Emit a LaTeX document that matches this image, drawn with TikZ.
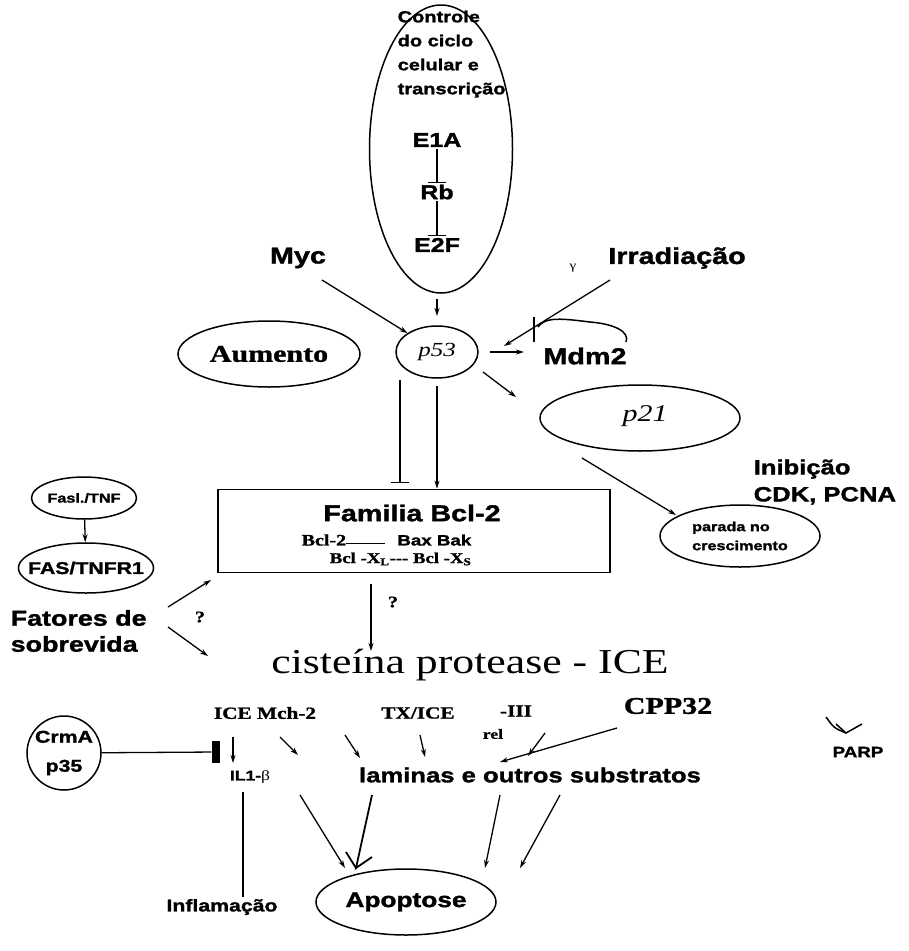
\documentclass[tikz,border=0pt]{standalone}
\usepackage{fontspec}
\setmainfont{Liberation Sans}[FakeStretch=1.25]
\newfontfamily\sansb{Liberation Sans}[FakeStretch=1.25,BoldFeatures={FakeBold=1.5}]
\newfontfamily\serifb{Liberation Serif}[FakeStretch=1.25,BoldFeatures={FakeBold=1.2}]
\usetikzlibrary{shapes.geometric,arrows.meta}
\begin{document}
\begin{tikzpicture}[x=1pt,y=-1pt,line width=1.4pt,
  ell/.style={draw,ellipse,inner sep=0pt,line width=1.5pt},
  txt/.style={inner sep=1pt},
  sans/.style={txt,font=\sansb\bfseries\fontsize{#1}{#1}\selectfont},
  serb/.style={txt,font=\serifb\bfseries\fontsize{#1}{#1}\selectfont},
  seri/.style={txt,font=\serifb\itshape\fontsize{#1}{#1}\selectfont},
  arr/.style={-{Stealth[length=8pt,width=5pt]},line width=1.3pt},
  inh/.style={-{Bar[width=18pt,line width=1.4pt]},line width=1.3pt},
  conn/.style={line width=1.3pt}]
\useasboundingbox (0,0) rectangle (909,951);

% ---- top ellipse: cell cycle control
\node[ell,minimum width=143,minimum height=288] (cc) at (441,149) {};
\node[anchor=north west,align=left,inner sep=0pt,
      font=\sansb\bfseries\fontsize{16}{24}\selectfont] (ctl) at (397,10)
      {Controle\\do ciclo\\celular e\\transcrição};
\node[sans=20] (e1a) at (437,140) {E1A};
\node[sans=20] (rb) at (437,192) {Rb};
\node[sans=20] (e2f) at (437,245) {E2F};
\draw[inh] (e1a) -- (rb);
\draw[inh] (rb) -- (e2f);

% ---- inputs
\node[sans=23] (myc) at (298,258) {Myc};
\node[txt,font=\serifb\fontsize{12}{12}\selectfont] (gam) at (573,268) {γ};
\node[sans=23] (irr) at (677,258) {Irradiação};

% ---- p53 level
\node[ell,minimum width=182,minimum height=66] (aum) at (269,354) {};
\node[serb=24] (aumt) at (aum.center) {Aumento};
\node[ell,minimum width=82,minimum height=52] (p53) at (437,352) {};
\node[seri=20] (p53t) at (p53.center) {p53};
\node[sans=23] (mdm) at (585,356) {Mdm2};
\node[ell,minimum width=200,minimum height=66] (p21) at (640,418) {};
\node[seri=24] (p21t) at (645,416) {p21};
\node[anchor=west,align=left,inner sep=0pt,
      font=\sansb\bfseries\fontsize{20.5}{27}\selectfont] (inib) at (753,482)
      {Inibição\\CDK, PCNA};
\node[ell,minimum width=160,minimum height=62] (par) at (740,536) {};
\node[align=left,inner sep=0pt,font=\sansb\bfseries\fontsize{13}{19}\selectfont]
      (part) at (par.center) {parada no\\crescimento};

\coordinate (mycs) at (322,280);
\coordinate (irrs) at (610,280);
\coordinate (irre) at (504,346);
\draw[arr] (mycs) -- (p53.north west);
\draw[arr] (irrs) -- (irre);
\coordinate (e2fb) at (437,299);
\coordinate (e2fe) at (437,316);
\draw[arr] (e2fb) -- (e2fe);
\coordinate (p53e) at (490,352);
\coordinate (mdmin) at (524,352);
\draw[arr] (p53e) -- (mdmin);
\coordinate (bar) at (538,327);
\draw[line width=1.5pt] (534,317) -- (534,342);
\coordinate (mdmt) at (626,342);
\draw[line width=1.5pt] (mdmt)
   .. controls (630,332) and (615,324) .. (590,322)
   .. controls (565,319) and (545,316) .. (bar);
\coordinate (p53se) at (483,372);
\coordinate (p21nw) at (516,397);
\draw[arr] (p53se) -- (p21nw);
\coordinate (p21s) at (582,458);
\coordinate (pare) at (676,515);
\draw[arr] (p21s) -- (pare);

% ---- Bcl-2 family box
\node[draw,line width=1.7pt,minimum width=392,minimum height=83,inner sep=0pt] (bcl) at (414,531) {};
\node[sans=23] (fam) at (412,513) {Familia Bcl-2};
\node[anchor=west,txt,font=\serifb\bfseries\fontsize{16}{16}\selectfont] (b2) at (300,540)
   {Bcl-2\rule[0.15em]{2.4em}{0.5pt}\hspace{0.8em}{\sansb\fontsize{15}{15}\selectfont Bax Bak}};
\node[anchor=east,txt,font=\serifb\bfseries\fontsize{15}{15}\selectfont] (bx) at (b2.east |- 0,559)
   {Bcl -X\textsubscript{L}--- Bcl -X\textsubscript{S}};
\coordinate (inhs) at (400,380);
\coordinate (inhe) at (400,483);
\draw[inh] (inhs) -- (inhe);
\coordinate (acts) at (437,386);
\draw[arr] (acts) -- (bcl.north -| acts);

% ---- left column
\node[ell,minimum width=105,minimum height=42] (fasl) at (84,498) {};
\node[sans=13] (faslt) at (fasl.center) {Fasl./TNF};
\node[ell,minimum width=135,minimum height=50] (fas) at (86,568) {};
\node[sans=17] (fast) at (fas.center) {FAS/TNFR1};
\draw[arr] (fasl) -- (fas);
\node[anchor=west,align=left,inner sep=0pt,
      font=\sansb\bfseries\fontsize{21.5}{26}\selectfont] (fat) at (10,631)
      {Fatores de\\sobrevida};
\node[serb=16] (q1) at (200,617) {?};
\coordinate (fa1) at (168,607);
\coordinate (fa1e) at (211,580);
\draw[arr] (fa1) -- (fa1e);
\coordinate (fa2) at (168,627);
\coordinate (fa2e) at (208,656);
\draw[arr] (fa2) -- (fa2e);

% ---- caspases
\node[txt,font=\serifb\fontsize{35}{35}\selectfont] (cis) at (470,665) {cisteína protease - ICE};
\coordinate (bq) at (371,584);
\coordinate (bqe) at (371,651);
\draw[arr] (bq) -- (bqe);
\node[serb=16] (q2) at (393,602) {?};

\node[serb=17] (icem) at (265,713) {ICE Mch-2};
\node[serb=17] (tx) at (418,713) {TX/ICE};
\node[serb=14] (rel) at (493,734) {rel};
\node[serb=17] (iii) at (516,711) {-III};
\node[serb=24] (cpp) at (668,706) {CPP32};
\node[sans=15] (parp) at (858,752) {PARP};
\coordinate (cph) at (826,717);
\coordinate (cpe) at (846,733);
\draw[line width=1.5pt] (cph) .. controls (834,728) .. (cpe) -- (862,724);
\draw[line width=1.5pt] (836,724) -- (cpe);

\node[draw,circle,minimum size=74,inner sep=0pt,line width=1.5pt] (crm) at (64,753) {};
\node[align=center,inner sep=0pt,font=\sansb\bfseries\fontsize{17}{29}\selectfont]
      (crmt) at (crm.center) {CrmA\\p35};
\node[fill,minimum width=8,minimum height=22,inner sep=0pt] (blk) at (216,752) {};
\draw[conn] (crm) -- (blk);

\coordinate (icea) at (233,737);
\coordinate (iceb) at (233,763);
\draw[arr] (icea) -- (iceb);
\node[txt,font=\sansb\bfseries\fontsize{14}{14}\selectfont] (il1) at (250,777)
     {IL1-{\serifb\mdseries β}};

\node[sans=20.5] (lam) at (530,775) {laminas e outros substratos};
\coordinate (a1) at (280,737); \coordinate (a1e) at (298,755);
\coordinate (a2) at (345,735); \coordinate (a2e) at (360,758);
\coordinate (a3) at (420,735); \coordinate (a3e) at (425,757);
\coordinate (a4) at (545,733); \coordinate (a4e) at (528,756);
\coordinate (a5) at (617,728); \coordinate (a5e) at (500,762);
\foreach \s in {1,...,5} \draw[arr] (a\s) -- (a\s e);

% ---- outcomes
\node[sans=17] (infl) at (222,907) {Inflamação};
\coordinate (il1b) at (243,792);
\draw[conn] (il1b) -- (infl.north -| il1b);
\node[ell,minimum width=180,minimum height=66] (apo) at (406,902) {};
\node[sans=21] (apot) at (apo.center) {Apoptose};
\coordinate (b1) at (300,795); \coordinate (b1e) at (345,868);
\coordinate (b3) at (500,795); \coordinate (b3e) at (485,868);
\coordinate (b4) at (560,795); \coordinate (b4e) at (520,868);
\draw[arr] (b1) -- (b1e);
\draw[arr] (b3) -- (b3e);
\draw[arr] (b4) -- (b4e);
\coordinate (b2s) at (372,795); \coordinate (b2e) at (356,868);
\draw[line width=1.8pt] (b2s) -- (b2e) -- (372,857);
\draw[line width=1.8pt] (b2e) -- (346,852);
\end{tikzpicture}
\end{document}
